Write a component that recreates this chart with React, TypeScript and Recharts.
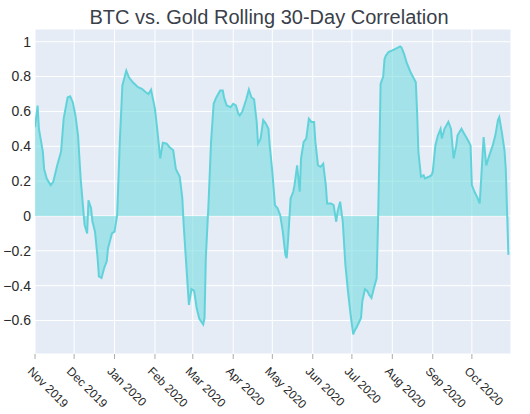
import { AreaChart, Area, XAxis, YAxis, CartesianGrid } from "recharts";

// days since 1 Nov 2019
const days = [
  0, 2, 3, 6, 7, 9, 12, 14, 17, 20, 22, 25, 27, 29, 31, 33, 35, 38, 40, 41, 43, 44, 46, 48, 49, 51, 53, 55, 56, 59,
  61, 63, 65, 67, 70, 72, 75, 79, 82, 85, 87, 89, 92, 94, 96, 98, 101, 103, 106, 108, 111, 113, 114, 116, 118, 120,
  122, 124, 126, 129, 130, 131, 133, 135, 137, 139, 142, 144, 145, 147, 150, 152, 154, 156, 157, 159, 162, 164, 166,
  168, 170, 171, 173, 175, 177, 179, 180, 182, 184, 186, 188, 190, 192, 193, 194, 196, 198, 199, 201, 203, 204, 206,
  208, 210, 212, 214, 215, 217, 219, 221, 223, 224, 227, 229, 231, 232, 234, 236, 238, 240, 242, 244, 245, 247, 250,
  251, 253, 255, 256, 258, 260, 262, 263, 264, 265, 267, 268, 269, 271, 274, 276, 280, 281, 283, 285, 288, 290, 292,
  293, 294, 296, 298, 299, 302, 304, 305, 307, 309, 311, 312, 314, 317, 319, 321, 323, 324, 327, 329, 332, 334, 335,
  337, 339, 341, 342, 344, 346, 348, 351, 353, 355, 356, 358, 360, 361, 362, 363,
];

const corr = [
  0.51, 0.634, 0.5, 0.37, 0.27, 0.215, 0.177, 0.196, 0.29, 0.37, 0.56, 0.68, 0.687, 0.653, 0.577, 0.463, 0.215, -0.05,
  -0.1, 0.09, 0.044, -0.03, -0.09, -0.24, -0.347, -0.356, -0.3, -0.26, -0.185, -0.1, -0.09, 0.005, 0.42, 0.749, 0.834,
  0.796, 0.767, 0.739, 0.73, 0.71, 0.7, 0.725, 0.615, 0.48, 0.33, 0.42, 0.415, 0.396, 0.377, 0.27, 0.225, 0.1, -0.05,
  -0.28, -0.51, -0.42, -0.43, -0.53, -0.59, -0.623, -0.585, -0.24, 0.063, 0.425, 0.644, 0.68, 0.72, 0.72, 0.68, 0.634,
  0.625, 0.644, 0.634, 0.587, 0.577, 0.6, 0.67, 0.726, 0.68, 0.67, 0.54, 0.415, 0.444, 0.55, 0.53, 0.5, 0.405, 0.253,
  0.063, 0.044, 0.006, -0.09, -0.223, -0.242, -0.147, 0.1, 0.139, 0.177, 0.29, 0.139, 0.33, 0.425, 0.444, 0.558, 0.54,
  0.54, 0.425, 0.29, 0.282, 0.3, 0.177, 0.072, 0.072, 0.063, -0.033, 0.025, 0.082, -0.033, -0.28, -0.433, -0.566,
  -0.68, -0.66, -0.633, -0.585, -0.49, -0.42, -0.433, -0.45, -0.47, -0.41, -0.356, -0.05, 0.33, 0.758, 0.8, 0.9, 0.92,
  0.94, 0.95, 0.958, 0.973, 0.968, 0.93, 0.88, 0.825, 0.796, 0.767, 0.596, 0.367, 0.225, 0.234, 0.215, 0.225, 0.234,
  0.253, 0.405, 0.463, 0.5, 0.444, 0.5, 0.54, 0.5, 0.33, 0.405, 0.463, 0.5, 0.473, 0.434, 0.405, 0.177, 0.139, 0.11,
  0.072, 0.196, 0.453, 0.29, 0.339, 0.405, 0.463, 0.55, 0.567, 0.48, 0.377, 0.27, 0.025, -0.223,
];

const monthStarts = [
  "2019-11-01", "2019-12-01", "2020-01-01", "2020-02-01", "2020-03-01", "2020-04-01",
  "2020-05-01", "2020-06-01", "2020-07-01", "2020-08-01", "2020-09-01", "2020-10-01",
];
const monthLabels = [
  "Nov 2019", "Dec 2019", "Jan 2020", "Feb 2020", "Mar 2020", "Apr 2020",
  "May 2020", "Jun 2020", "Jul 2020", "Aug 2020", "Sep 2020", "Oct 2020",
];
const yTicks = [-0.6, -0.4, -0.2, 0, 0.2, 0.4, 0.6, 0.8, 1];

const DAY = 86400000;
const START = Date.UTC(2019, 10, 1);
const END = START + 365 * DAY;
const FONT = '"Liberation Sans", Arial, Helvetica, sans-serif';

const data = days.map((d, i) => ({ t: START + d * DAY, corr: corr[i] }));
const tickTimes = monthStarts.map((s) => Date.parse(s));

function XTick({ x, y, payload }: any) {
  const idx = tickTimes.indexOf(payload.value);
  return (
    <g transform={`translate(${x - 2},${y + 5}) rotate(45)`}>
      <text x={0} y={0} dy="0.71em" textAnchor="start" fill="#2a2a2a" fontSize={12} fontFamily={FONT}>
        {monthLabels[idx]}
      </text>
    </g>
  );
}

function YTick({ x, y, payload }: any) {
  const v = payload.value as number;
  const label = v < 0 ? "\u2212" + String(Math.abs(v)) : String(v);
  return (
    <text x={x} y={y} dy="0.35em" textAnchor="end" fill="#2a2a2a" fontSize={14} fontFamily={FONT}>
      {label}
    </text>
  );
}

export default function App() {
  return (
    <div style={{ position: "absolute", left: 0, top: 0, width: 530, height: 414, background: "#fff" }}>
      <div
        style={{
          position: "absolute",
          left: 0,
          width: 538,
          top: 5,
          textAlign: "center",
          fontFamily: FONT,
          fontSize: 20,
          color: "#3a3f4a",
          lineHeight: "24px",
        }}
      >
        BTC vs. Gold Rolling 30-Day Correlation
      </div>
      <AreaChart width={530} height={414} data={data} margin={{ top: 29, right: 19, bottom: 0, left: 0 }}>
        <CartesianGrid fill="#E5ECF6" stroke="#fff" strokeWidth={1} />
        <XAxis
          type="number"
          dataKey="t"
          domain={[START, END]}
          ticks={tickTimes}
          interval={0}
          tick={<XTick />}
          tickSize={5}
          tickLine={{ stroke: "#aaa" }}
          axisLine={false}
          height={60}
          allowDataOverflow
        />
        <YAxis
          domain={[-0.792, 1.073]}
          ticks={yTicks}
          interval={0}
          tick={<YTick />}
          tickLine={false}
          tickSize={2}
          tickMargin={2}
          axisLine={false}
          width={35}
          allowDataOverflow
        />
        <Area
          type="linear"
          dataKey="corr"
          baseValue={0}
          stroke="#62d2da"
          strokeWidth={2}
          fill="#5fd8da"
          fillOpacity={0.5}
          dot={false}
          activeDot={false}
          isAnimationActive={false}
        />
      </AreaChart>
    </div>
  );
}
